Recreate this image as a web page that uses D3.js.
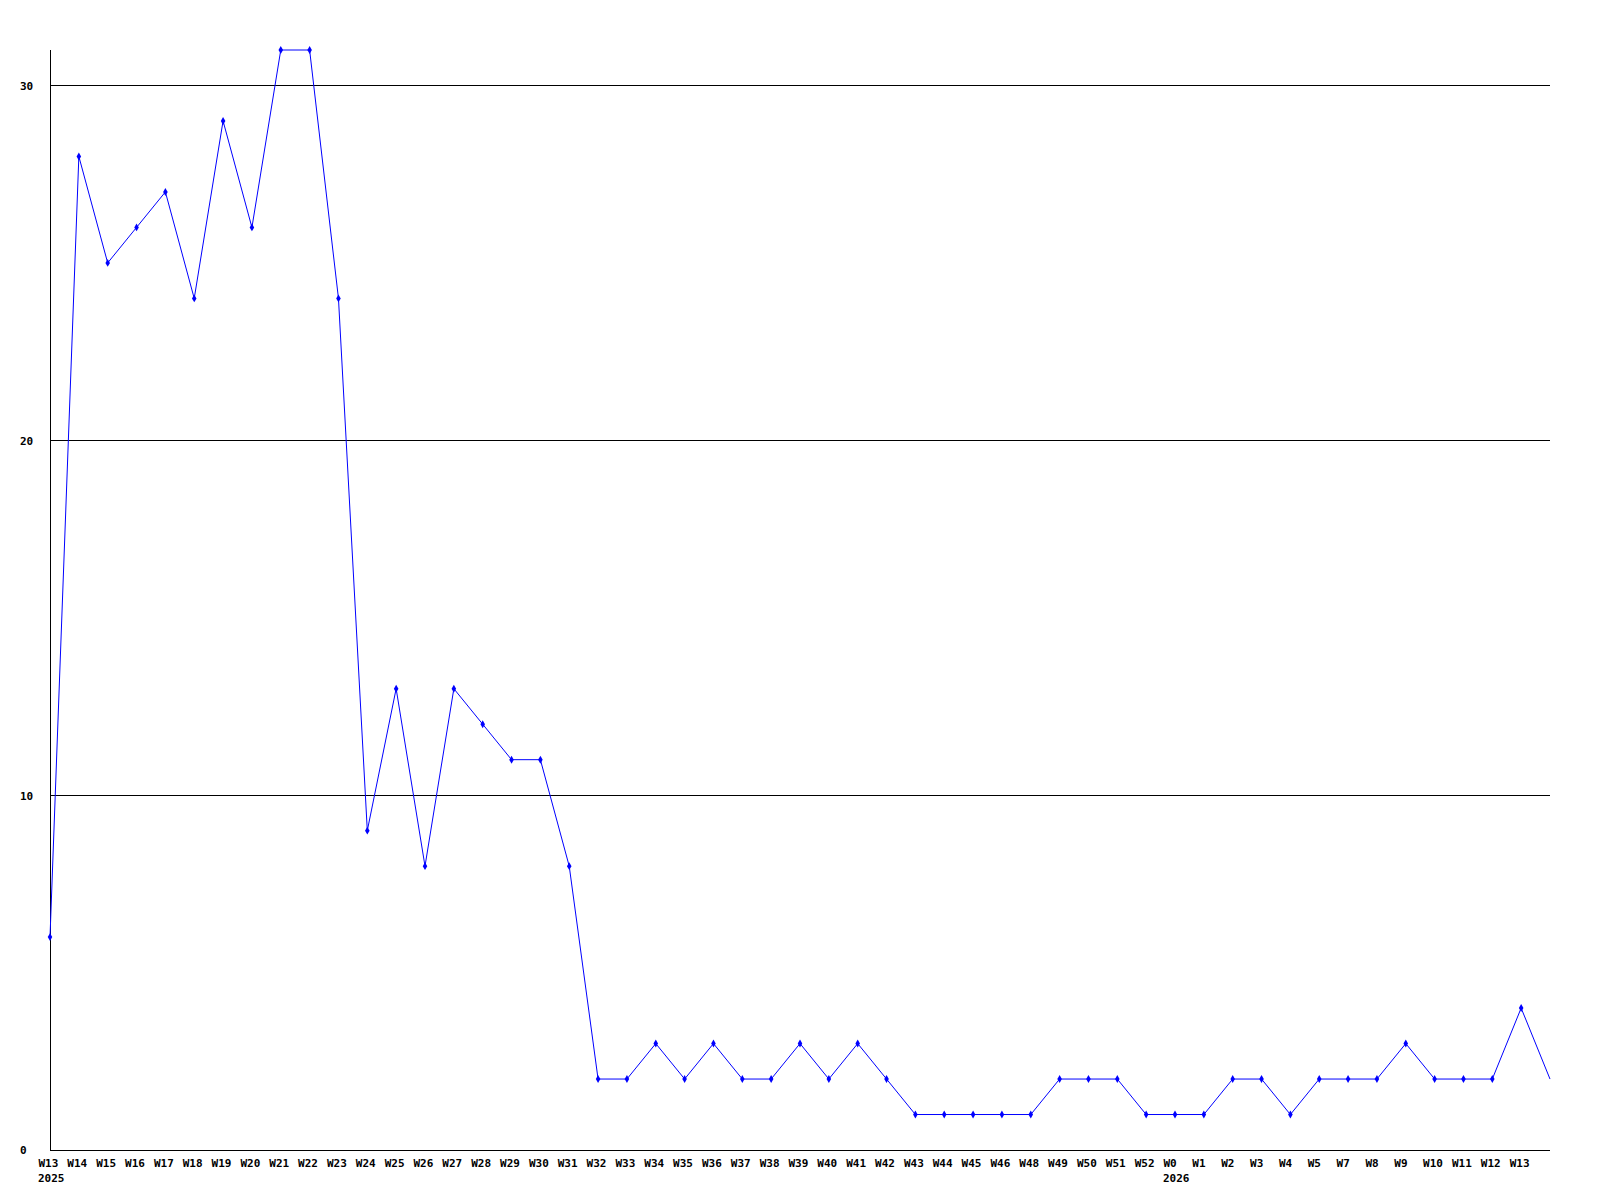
<!DOCTYPE html>
<html>
<head>
<meta charset="utf-8">
<script src="https://cdn.jsdelivr.net/npm/d3@7"></script>
<style>
  body { margin: 0; background: #fff; }
  text { font-family: "DejaVu Sans Mono", monospace; font-weight: bold; font-size: 11px; fill: #000; }
</style>
</head>
<body>
<div class="chart"></div>
<script>
// week labels (last point has no label)
const weeks = ['W13','W14','W15','W16','W17','W18','W19','W20','W21','W22','W23','W24','W25','W26','W27','W28','W29','W30',
  'W31','W32','W33','W34','W35','W36','W37','W38','W39','W40','W41','W42','W43','W44','W45','W46','W48','W49','W50','W51','W52',
  'W0','W1','W2','W3','W4','W5','W7','W8','W9','W10','W11','W12','W13',''];
const counts = [6,28,25,26,27,24,29,26,31,31,24,9,13,8,13,12,11,11,8,2,2,3,2,3,2,2,3,2,3,2,1,1,1,1,1,2,2,2,1,1,1,2,2,1,2,2,2,3,2,2,2,4,2];
const years = [{i: 0, label: '2025'}, {i: 39, label: '2026'}];
const yTicks = [0, 10, 20, 30];

const width = 1600, height = 1200;
const mLeft = 50, mRight = 1550, mTop = 50, mBottom = 1150;

const svg = d3.select('.chart').append('svg')
  .attr('width', width)
  .attr('height', height);

const idx = counts.map((d, i) => i);
const x = d3.scalePoint().domain(idx).range([mLeft, mRight]);
const y = d3.scaleLinear().domain([0, 31]).range([mBottom, mTop]);

//horizontal grid lines + y labels
const yAxis = svg.append('g')
  .attr('transform', `translate(${mLeft},0)`)
  .call(d3.axisLeft(y).tickValues(yTicks).tickSize(-(mRight - mLeft)).tickFormat(d3.format('d')));
yAxis.select('.domain').remove();
yAxis.selectAll('line').attr('stroke', '#000').attr('shape-rendering', 'crispEdges');
yAxis.selectAll('text')
  .attr('text-anchor', 'start')
  .attr('x', 20 - mLeft)
  .attr('dy', '0.35em');

//axis lines
svg.append('line').attr('x1', mLeft).attr('x2', mLeft).attr('y1', mTop).attr('y2', mBottom)
  .attr('stroke', '#000').attr('shape-rendering', 'crispEdges');
svg.append('line').attr('x1', mLeft).attr('x2', mRight).attr('y1', mBottom).attr('y2', mBottom)
  .attr('stroke', '#000').attr('shape-rendering', 'crispEdges');

//week labels
const xAxis = svg.append('g')
  .attr('transform', `translate(0,${mBottom})`)
  .call(d3.axisBottom(x).tickSize(0).tickFormat(i => weeks[i]));
xAxis.select('.domain').remove();
xAxis.selectAll('text')
  .attr('text-anchor', 'start')
  .attr('dx', -12)
  .attr('y', 17)
  .attr('dy', 0);

//year labels
svg.selectAll('.year')
  .data(years)
  .enter()
  .append('text')
  .attr('class', 'year')
  .attr('x', d => x(d.i) - 12)
  .attr('y', mBottom + 32)
  .text(d => d.label);

//the line
const line = d3.line().x((d, i) => x(i)).y(d => y(d));
svg.append('path')
  .datum(counts)
  .attr('d', line)
  .attr('fill', 'none')
  .attr('stroke', '#0000ff')
  .attr('stroke-width', 1);

//point markers
svg.selectAll('.pt')
  .data(counts.slice(0, counts.length - 1))
  .enter()
  .append('path')
  .attr('class', 'pt')
  .attr('d', d3.symbol(d3.symbolDiamond, 18))
  .attr('transform', (d, i) => `translate(${x(i)},${y(d)})`)
  .attr('fill', '#0000ff');
</script>
</body>
</html>
